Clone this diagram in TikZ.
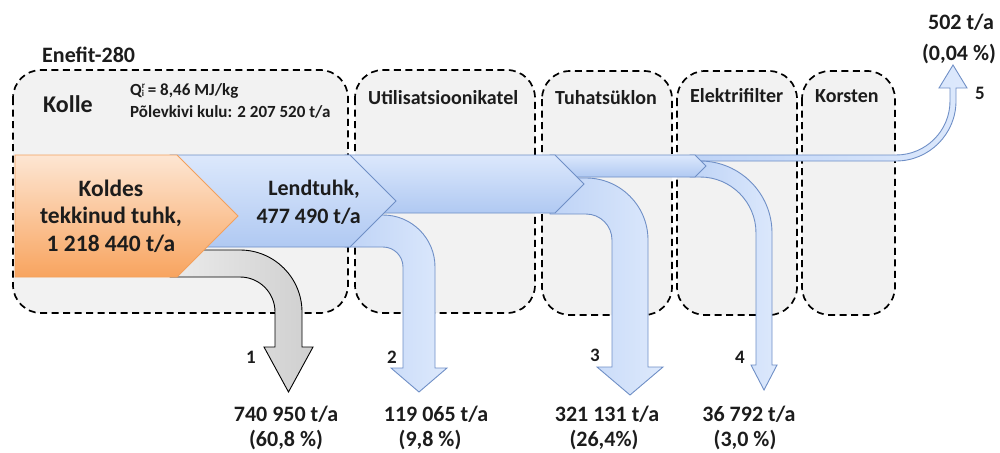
\documentclass[tikz,border=0pt]{standalone}
\usepackage{fontspec}
\setmainfont{Carlito}
\definecolor{stagefill}{HTML}{F2F2F2}
\definecolor{blueline}{HTML}{6F8FC6}
\definecolor{bluetop}{HTML}{DCE8FC}
\definecolor{bluebot}{HTML}{B0C9F2}
\definecolor{blueleft}{HTML}{BED3F6}
\definecolor{blueright}{HTML}{DDE9FC}
\definecolor{orangetop}{HTML}{FDE6D3}
\definecolor{orangebot}{HTML}{F8A45F}
\definecolor{orangeline}{HTML}{F3A05C}
\definecolor{grayleft}{HTML}{EBEBEB}
\definecolor{grayright}{HTML}{CFCFCF}
\definecolor{ink}{HTML}{1C1C1C}
\begin{document}
\begin{tikzpicture}[x=1pt,y=-1pt,
  stage/.style={draw=black, fill=stagefill, line width=1.7pt,
    dash pattern=on 7pt off 4.5pt, rounded corners=28pt},
  blueflow/.style={draw=blueline, line width=0.9pt, top color=bluetop, bottom color=bluebot},
  bluebend/.style={draw=blueline, line width=0.9pt, left color=blueleft, right color=blueright},
  graybend/.style={draw=black, line width=0.9pt, left color=grayleft, right color=grayright},
  orangeflow/.style={draw=orangeline, line width=0.9pt, top color=orangetop, bottom color=orangebot},
  txt/.style={inner sep=0pt, text=ink, font=\fontsize{22}{26}\selectfont\bfseries},
  flowtxt/.style={txt, font=\fontsize{23.5}{27}\selectfont\bfseries},
  bigtxt/.style={txt, font=\fontsize{24}{28}\selectfont\bfseries},
  smalltxt/.style={txt, font=\fontsize{17}{20}\selectfont\bfseries},
  titletxt/.style={txt, font=\fontsize{20}{24}\selectfont\bfseries},
  numtxt/.style={txt, font=\fontsize{19}{22}\selectfont\bfseries}]
\useasboundingbox (0,0) rectangle (1000,452);

% process stages
\draw[stage] (13,70) rectangle (348,313);
\draw[stage] (355,70) rectangle (535,313);
\draw[stage] (542,71) rectangle (672,315);
\draw[stage] (677,71) rectangle (797,315);
\draw[stage] (802,71) rectangle (895,315);

% stream 5: to the stack
\path[bluebend] (690,155) -- (896,155) arc[start angle=90, end angle=0, radius=54]
  -- (950,88) -- (939,88) -- (953,65) -- (967,88) -- (956,88) -- (956,101)
  arc[start angle=0, end angle=90, radius=60] -- (690,161) -- cycle;
% stream 4: electrostatic precipitator
\path[bluebend] (690,161) -- (700,161) arc[start angle=270, end angle=360, radius=72]
  -- (772,365) -- (777,365) -- (764,390) -- (751,365) -- (756,365) -- (756,233)
  arc[start angle=0, end angle=-90, radius=56] -- (690,177) -- cycle;
% flue gas after cyclone
\path[blueflow] (550,155) -- (695,155) -- (706,166) -- (695,177) -- (550,177) -- cycle;
% stream 3: cyclone
\path[bluebend] (550,178) -- (586,178) arc[start angle=270, end angle=360, radius=62]
  -- (648,367) -- (663,367) -- (630,395) -- (597,367) -- (612,367) -- (612,240)
  arc[start angle=0, end angle=-90, radius=26] -- (550,214) -- cycle;
% flue gas after boiler
\path[blueflow] (345,155) -- (555,155) -- (584,184) -- (555,213) -- (345,213) -- cycle;
% stream 2: heat recovery boiler
\path[bluebend] (345,215) -- (383,215) arc[start angle=270, end angle=360, radius=52]
  -- (435,368) -- (447,368) -- (419,392) -- (391,368) -- (403,368) -- (403,267)
  arc[start angle=0, end angle=-90, radius=20] -- (345,247) -- cycle;
% fly ash
\path[blueflow] (170,155) -- (350,155) -- (396,201) -- (350,247) -- (170,247) -- cycle;
% stream 1: furnace bottom ash
\path[graybend] (170,250) -- (240,250) arc[start angle=270, end angle=360, radius=62]
  -- (302,347) -- (313,347) -- (288.5,392) -- (264,347) -- (275,347) -- (275,312)
  arc[start angle=0, end angle=-90, radius=35] -- (170,277) -- cycle;
% total ash from furnace
\path[orangeflow] (15,155) -- (177,155) -- (238,216) -- (177,277) -- (15,277) -- cycle;

% headings
\node[txt, anchor=base west] (plant) at (42,63) {Enefit-280};
\node[bigtxt, anchor=base west] (kolle) at (43,112) {Kolle};
\node[smalltxt, anchor=base west] (heat) at (130,95)
  {Q{\fontsize{9}{9}\selectfont\rlap{\raisebox{6pt}{r}}\raisebox{-1pt}{i}} = 8,46 MJ/kg};
\node[smalltxt, anchor=base west] (fuel) at (130,117.5) {Põlevkivi kulu: 2 207 520 t/a};
\node[titletxt, anchor=base west] (boiler) at (368,104) {Utilisatsioonikatel};
\node[titletxt, anchor=base west] (cyclone) at (555,104) {Tuhatsüklon};
\node[titletxt, anchor=base west] (filter) at (690,102) {Elektrifilter};
\node[titletxt, anchor=base west] (stack) at (815,102) {Korsten};

% flow labels
\node[flowtxt, anchor=base] (ash1) at (111,196) {Koldes};
\node[flowtxt, anchor=base] (ash2) at (111,223) {tekkinud tuhk,};
\node[flowtxt, anchor=base] (ash3) at (111,251) {1 218 440 t/a};
\node[txt, anchor=base east] (fly1) at (360,195) {Lendtuhk,};
\node[txt, anchor=base east] (fly2) at (361,223) {477 490 t/a};

% stream numbers
\node[numtxt] (n1) at (251,357.5) {1};
\node[numtxt] (n2) at (392,357) {2};
\node[numtxt] (n3) at (595,355) {3};
\node[numtxt] (n4) at (740,357) {4};
\node[numtxt] (n5) at (980,93) {5};

% stream amounts
\node[txt, anchor=base] (a1) at (286,421) {740 950 t/a};
\node[txt, anchor=base] (p1) at (286,446) {(60,8 \%)};
\node[txt, anchor=base] (a2) at (436,421) {119 065 t/a};
\node[txt, anchor=base] (p2) at (430,446) {(9,8 \%)};
\node[txt, anchor=base] (a3) at (607,421) {321 131 t/a};
\node[txt, anchor=base] (p3) at (604,446) {(26,4\%)};
\node[txt, anchor=base] (a4) at (749,421) {36 792 t/a};
\node[txt, anchor=base] (p4) at (745,446) {(3,0 \%)};
\node[txt, anchor=base] (a5) at (961,30) {502 t/a};
\node[txt, anchor=base] (p5) at (959,60) {(0,04 \%)};
\end{tikzpicture}
\end{document}
